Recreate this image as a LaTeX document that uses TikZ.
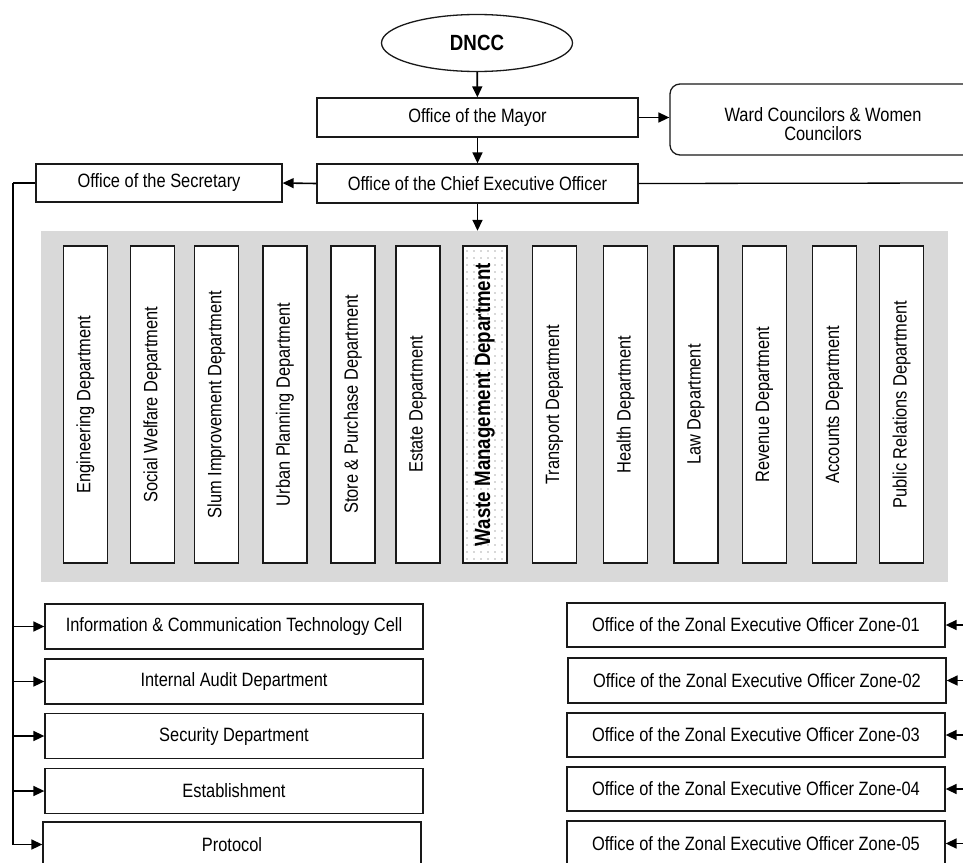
\documentclass[tikz,border=0pt]{standalone}
\usepackage{fontspec}
\setmainfont{Liberation Sans}[FakeStretch=0.85]
\usetikzlibrary{shapes.geometric,arrows.meta}
\newcommand{\regf}{\fontsize{19.3}{19}\selectfont}
\newcommand{\bigf}{\fontsize{22}{25}\selectfont\bfseries}
\begin{document}
\begin{tikzpicture}[x=1pt,y=-1pt,
  box/.style={draw=black!90, line width=1.3pt, fill=white, inner sep=0pt, font=\regf, anchor=center},
  dept/.style={box, minimum width=317pt, minimum height=44pt, rotate=90},
  wide/.style={box, minimum width=378pt, minimum height=45pt},
  arr/.style={-{Triangle[length=11pt,width=10pt]}, line width=1.6pt},
  ln/.style={line width=1.3pt}]
\useasboundingbox (0,0) rectangle (963,862);
% top
\node[box, ellipse, minimum width=191pt, minimum height=57pt, font=\bigf] (dncc) at (477,43) {DNCC};
\node[box, minimum width=321pt, minimum height=39pt] (mayor) at (477.5,117.5) {Office of the Mayor};
\node[box, minimum width=321pt, minimum height=39pt] (ceo) at (477.5,183.5) {Office of the Chief Executive Officer};
\node[box, rounded corners=10pt, minimum width=306pt, minimum height=71pt, align=center] (ward) at (823,119.5) {\rule{0pt}{23pt}Ward Councilors \& Women\\Councilors};
\node[box, minimum width=246pt, minimum height=38pt] (sec) at (159,183) {Office of the Secretary};
% gray panel
\fill[black!15] (41,231) rectangle (948,582);
\node[inner sep=0pt, minimum width=907pt, minimum height=351pt] (panel) at (494.5,406.5) {};
% departments
\foreach \nm/\cx/\txt in {d1/85.5/Engineering Department, d2/152.5/Social Welfare Department, d3/216.5/Slum Improvement Department, d4/285/Urban Planning Department, d5/353/Store \& Purchase Department, d6/418/Estate Department, d8/554.5/Transport  Department, d9/625.5/Health Department, d10/696/Law Department, d11/764.5/Revenue Department, d12/834.5/Accounts Department, d13/901.5/Public Relations Department}
  \node[dept] (\nm) at (\cx,404.5) {\txt};
% waste management (dotted)
\fill[white] (463,246) rectangle (507,563);
\foreach \xx in {467,474,...,504}
  \foreach \yy in {251,258,...,560}
    \fill[black!30] (\xx,\yy) circle (0.8pt);
\node[dept, fill=none, font=\bigf] (d7) at (485,404.5) {Waste Management Department};
% lower left
\node[wide] (ict) at (234,626.5) {Information \& Communication Technology Cell};
\node[wide] (audit) at (234,681.5) {Internal Audit Department};
\node[wide] (secu) at (234,736) {Security Department};
\node[wide] (est) at (234,791) {Establishment};
\node[wide] (prot) at (232,844.5) {Protocol};
% lower right
\node[wide, minimum height=44pt] (z1) at (756,625) {Office of the Zonal Executive Officer Zone-01};
\node[wide] (z2) at (757,680.5) {Office of the Zonal Executive Officer Zone-02};
\node[wide, minimum height=44pt] (z3) at (756,735) {Office of the Zonal Executive Officer Zone-03};
\node[wide, minimum height=44pt] (z4) at (756,789) {Office of the Zonal Executive Officer Zone-04};
\node[wide] (z5) at (756,843.5) {Office of the Zonal Executive Officer Zone-05};
% coordinates
\coordinate (lc) at (13,183);
\coordinate (ceoR) at (963,183);
\foreach \i/\yy in {1/625,2/680.5,3/735,4/789,5/843.5}
  \coordinate (r\i) at (963,\yy);
% connectors
\draw[arr] (dncc) -- (mayor);
\draw[arr] (mayor) -- (ceo);
\draw[arr] (ceo.south) -- (panel.north -| ceo.south);
\draw[arr] (mayor.east) -- (ward.west |- mayor.east);
\draw[arr] (ceo.west) -- (sec.east);
\draw[ln] (ceo.east) -- (ceoR);
\draw[ln] (sec.west) -- (lc);
\draw[arr] (lc) |- (prot.west);
\foreach \b in {ict,audit,secu,est}
  \draw[arr] (lc |- \b.west) -- (\b.west);
\foreach \i in {1,...,5}
  \draw[arr] (r\i) -- (z\i.east);
\end{tikzpicture}
\end{document}
